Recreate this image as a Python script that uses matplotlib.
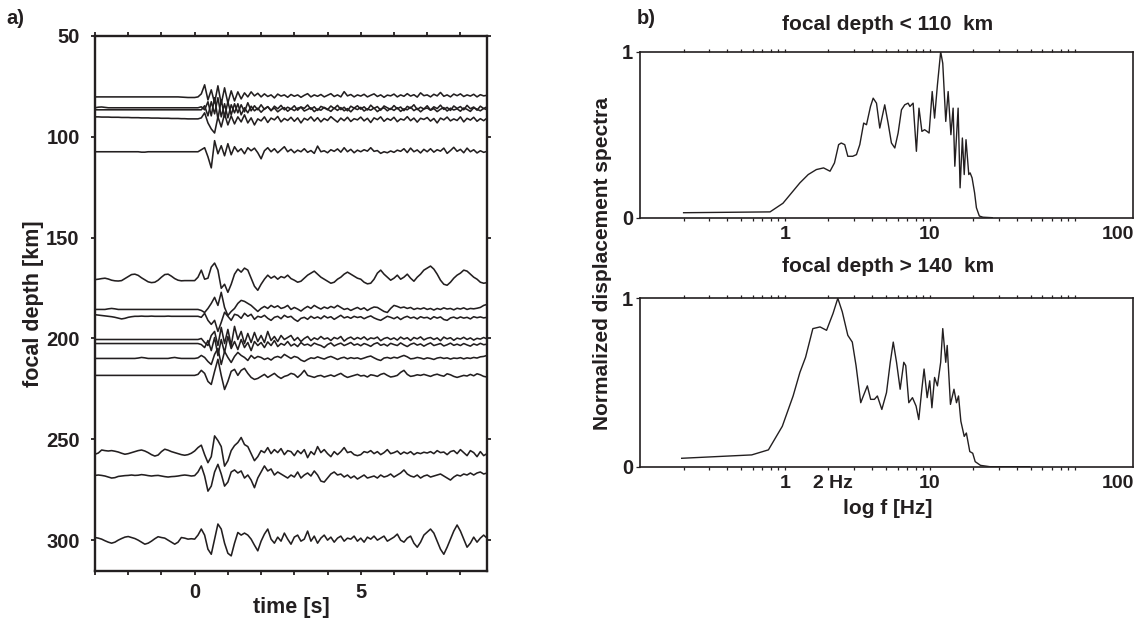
import numpy as np
import matplotlib
matplotlib.use("Agg")
import matplotlib.pyplot as plt
from matplotlib.ticker import FixedLocator, NullFormatter

# ---------------- data ----------------
t_start = -3.0
t_step = 0.1

depths = [80.2, 85.6, 86.6, 91.1, 107.4, 171.1, 185.6, 189.0, 200.5, 202.5, 209.9, 218.3, 256.6, 268.2, 299.5]

tr_080 = [0,0,0,0,0,0,0,0,0,0, 0,0,0,0,0,0,0,0,0,0, 0,0,0,0,0,0,-0.1,-0.2,-0.3,-0.3, -0.3,0,
          1.5,6.0,-1.5,3.5,-3.0,5.5,-3.5,4.5,
          -3.0,3.0,-2.0,2.5,-1.0,2.0,0.0,2.5,0.5,1.8,
          0.0,1.5,0.2,1.0,-0.5,1.4,0.4,1.0,-0.2,1.2,
          0.3,1.0,-0.2,0.8,1.6,0.0,1.0,0.3,1.2,0.0,
          0.8,1.6,0.2,1.0,0.0,2.6,0.5,1.2,0.0,1.0,
          0.4,1.3,0.0,0.8,1.5,0.2,1.0,-0.2,0.9,0.5,
          1.4,0.0,1.0,0.3,1.6,0.4,1.1,-0.1,2.0,0.6,
          1.0,0.0,1.3,0.5,2.2,0.3,1.0,0.0,1.4,0.6,
          1.5,0.2,1.0,0.4,1.3,0.0,1.1,0.5,0.8]
tr_086a = [0,0.3,0.4,0.2,0,0,0,0,0,0, 0,0,0,0,0,0,0,0,0,0, 0,0,0,0,0,0,0,0,0,0, 0,0,
           0.5,-1.0,3.0,-4.0,5.0,-5.5,4.0,-4.5,
           3.0,-3.5,2.0,-2.5,1.5,-2.0,2.5,-1.5,1.0,-1.0,
           1.5,-0.8,0.6,-1.5,0.8,-0.5,1.2,-1.0,0.3,-0.6,
           1.0,-1.2,0.4,-0.3,1.4,-0.8,0.5,-1.3,0.7,0.0,
           -1.0,0.9,-0.4,1.2,-0.9,0.3,-1.5,0.8,-0.2,1.0,
           -0.7,0.5,-1.1,1.3,-0.3,0.6,-1.2,0.9,0.0,-0.8,
           1.1,-0.5,0.4,-1.4,0.7,-0.2,1.5,-0.9,0.3,-0.6,
           1.0,-1.1,0.5,-0.4,1.3,-0.8,0.2,-1.3,0.9,-0.3,
           0.6,-1.0,1.2,-0.5,0.4,-1.2,0.8,-0.4,0.5]
tr_086b = [0,0,0,0,0,0,0,0,0,0, 0,0,0,0,0,0,0,0,0,0, 0,0,0,0,0,0,0,0,0,0, 0,0,
           0.0,2.0,-3.0,4.0,-2.0,6.0,-3.5,3.0,
           -4.0,2.5,-1.5,3.0,-2.5,1.0,-1.5,1.8,-0.5,0.8,
           -1.2,0.5,1.5,-0.2,0.9,-1.0,0.3,1.1,-0.7,0.6,
           -0.4,0.8,1.3,-0.6,0.2,1.0,-0.9,0.4,-0.2,1.2,
           0.3,-0.8,0.9,-0.3,1.1,-0.5,0.6,-1.0,0.8,0.1,
           1.2,-0.6,0.5,-0.2,0.9,-0.9,0.4,1.0,-0.5,0.7,
           -0.3,1.0,-0.8,0.5,0.0,1.3,-0.4,0.7,-1.0,0.4,
           0.9,-0.2,0.6,-0.9,0.3,1.1,-0.6,0.8,-0.1,0.5,
           -0.7,0.9,0.2,-0.8,1.0,0.3,-0.5,0.7,0.0]
tr_091 = [1.0,1.0,0.9,0.9,0.9,0.8,0.8,0.8,0.7,0.7, 0.7,0.6,0.6,0.6,0.5,0.5,0.5,0.4,0.4,0.4, 0.3,0.3,0.3,0.2,0.2,0.2,0.1,0.1,0.0,0.0, 0.0,0.0,
          0.5,3.0,-2.0,-5.0,-7.0,1.0,-4.0,2.5,
          -3.0,1.5,-2.5,1.0,-1.5,2.0,-2.0,0.5,-3.0,0.0,
          -1.0,1.0,-1.8,0.4,-0.5,1.2,-1.5,0.2,-0.8,0.8,
          -1.2,0.5,-2.0,0.3,-0.6,1.0,-1.1,0.6,-1.5,0.2,
          -0.8,1.1,-0.3,-1.6,0.4,-0.9,0.8,-1.3,0.1,-0.5,
          0.9,-1.0,0.3,-1.8,0.5,-0.4,1.0,-1.2,0.2,-0.7,
          0.8,-1.4,0.0,-0.6,1.1,-0.9,0.4,-1.6,0.3,-0.3,
          0.7,-1.1,0.2,-2.0,0.4,-0.5,0.9,-1.0,0.0,-0.8,
          1.0,-1.5,0.3,-0.6,0.8,-1.2,0.1,-0.9,0.4]
tr_107 = [0,0,0,0,0,0,0,0,0,0, 0,0,0,0,-0.2,-0.2,0,0,0,0, 0,0,0,0,0,0,0,0,0,0, 0,0,
          1.0,2.0,-2.5,-8.0,5.5,-1.0,3.0,-2.0,
          4.0,-1.5,2.5,0.0,1.5,-1.0,2.0,0.5,1.8,-0.5,
          -3.5,0.5,2.0,0.0,1.5,-0.5,1.0,2.5,0.0,1.2,
          -0.5,0.8,0.0,1.5,-0.3,0.6,-0.8,2.8,0.0,0.5,
          -0.5,1.0,0.2,1.4,-0.2,2.0,0.0,1.2,-0.5,0.8,
          0.0,1.0,0.3,2.0,0.2,0.6,-0.8,0.0,-0.5,0.4,
          -0.3,0.8,0.2,1.5,-0.4,1.8,0.0,0.9,-0.6,1.2,
          0.0,1.5,-0.2,1.0,0.3,1.8,-0.8,0.6,2.2,0.2,
          1.2,-0.5,1.8,0.0,1.0,-0.6,0.5,-0.3,0.2]
tr_171 = [0.3,0.5,0.8,1.0,0.6,0.0,-0.3,-0.4,-0.2,0.8,
          1.8,2.8,3.0,2.4,1.2,0.2,-0.8,-1.2,-1.0,0.0,
          1.5,2.8,3.0,2.0,0.8,0.0,-0.3,-0.2,-0.2,-0.2,
          -0.2,1.5,
          5.0,0.5,1.0,6.5,8.5,5.0,-4.0,-2.0,
          -6.0,-2.0,3.0,5.5,4.0,6.0,5.0,1.0,-3.0,-5.0,
          -2.0,0.5,2.5,1.0,2.0,0.5,1.8,1.2,2.5,0.8,
          0.0,-1.0,-0.5,1.0,2.5,3.5,4.5,3.0,1.5,0.5,
          -0.5,-1.5,-1.0,0.5,1.5,3.0,4.0,3.0,2.0,1.0,
          0.5,-1.0,-1.8,-1.5,0.5,3.5,5.0,3.0,1.5,0.0,
          1.0,2.5,0.5,1.5,3.0,1.0,-0.5,1.5,3.0,5.0,
          6.0,7.0,5.5,3.0,0.0,-2.0,-2.5,-1.0,1.0,2.5,
          3.5,5.0,4.5,3.0,1.5,0.5,-1.0,-1.5,-1.2]
tr_186 = [0,0,0,0,0.3,0.5,0.3,0,0,0, 0,0,0,0,0,0,0,0,0,0, 0,0,0,0,0,0,0,0,0,0, 0,0,
          -0.5,-1.5,0.5,3.0,6.0,2.0,8.5,1.0,
          -3.0,-1.0,0.5,3.0,4.5,4.0,3.0,2.0,0.5,-1.0,
          0.5,1.5,0.5,2.0,1.0,1.8,0.5,1.0,2.0,0.0,
          1.0,0.2,-0.8,0.5,1.5,0.5,2.0,1.0,0.2,1.2,
          0.5,1.5,0.8,2.0,1.0,0.0,0.5,-0.5,0.3,1.0,
          0.0,0.8,-0.5,0.5,1.2,1.0,0.0,-1.0,-1.5,0.5,
          2.0,1.5,0.8,1.2,0.5,1.0,0.0,0.6,0.2,0.8,
          0.0,0.5,-0.3,0.5,0.0,0.8,0.2,0.5,-0.2,0.6,
          0.2,0.8,0.0,0.5,0.3,0.6,1.0,2.0,2.5]
tr_189 = [0.8,0.6,0.4,0.2,0.0,-0.2,-0.5,-0.9,-1.3,-1.0,
          -0.5,-0.2,0.0,0.0,0.1,0.0,0.0,0.1,0.0,0.0,
          0.0,0.0,0.1,0.0,0.0,0.0,0.0,0.0,0.0,0.0,
          0.0,0.0,
          -0.5,1.5,-2.0,-4.0,-2.0,-7.5,-3.0,2.0,
          0.0,-2.0,1.0,0.5,-1.0,1.5,0.0,1.0,-1.5,0.0,
          -0.5,0.5,-1.0,-2.0,-0.5,0.0,-1.2,0.5,-0.5,0.0,
          -1.5,-2.5,-1.0,-0.5,-1.5,0.0,-1.0,-0.3,-1.2,0.2,
          -0.8,-0.2,-1.5,-0.5,0.5,-0.8,-0.2,-1.0,0.0,-0.6,
          -0.2,-1.2,-0.4,0.2,-0.8,-1.5,-2.0,-1.0,0.0,-0.5,
          -1.2,-0.3,-1.6,-0.6,0.0,-0.9,-0.4,-1.3,-0.2,-0.8,
          -0.5,-1.4,-0.2,-0.9,-0.3,-1.6,-2.0,-0.8,-0.4,-1.1,
          -0.3,-0.9,-0.5,-1.3,-0.2,-0.7,-0.3,-0.8,-0.5]
tr_200 = [0,0,0,0,0,0,0,0,0,0, 0,0,0,0,0,0,0,0,0,0, 0,0,0,0,0,0,0,0,0,0, 0,0,
          0.5,-1.5,-3.0,2.0,4.0,-3.0,6.0,-2.0,
          5.0,-3.0,6.5,0.0,4.0,-2.0,3.0,-1.5,3.5,-1.0,
          2.0,-1.5,4.0,-0.5,1.5,-1.0,2.0,0.0,1.0,2.0,
          -0.5,1.0,-1.0,0.5,1.5,-0.5,0.8,0.0,1.5,0.2,
          0.8,-0.5,1.0,0.3,1.5,-0.8,0.5,1.2,0.0,1.0,
          0.2,1.3,-0.2,0.8,0.4,1.2,-0.6,0.5,1.0,0.0,
          0.8,-0.3,1.2,0.2,0.9,-0.5,1.0,0.3,1.3,-0.2,
          0.6,1.0,0.0,0.8,-0.6,1.2,0.3,0.9,-0.4,0.7,
          0.2,1.1,0.0,0.8,-0.3,0.6,0.2,1.0,0.3]
tr_202 = [0,0,0,0,0,0,0,0,0,0, 0,0,0,0,0,0,0,0,0,0, 0,0,0,0,0,0,0,0,0,0, 0,0,
          -0.5,-2.0,1.5,-3.5,3.0,-6.0,2.0,-4.5,
          3.5,-2.5,1.0,-3.0,2.0,-2.0,0.5,-3.5,1.0,-1.0,
          0.5,-2.0,0.8,-1.0,1.5,-1.5,0.0,-0.8,1.0,-1.2,
          -0.2,-1.5,0.5,-0.8,-0.3,-1.2,0.2,-0.5,-1.0,-2.0,
          -0.5,0.3,-1.2,-0.4,0.2,-1.0,-0.3,0.5,-0.8,-0.2,
          -1.1,0.0,-0.6,-1.4,-0.2,0.4,-0.9,-0.3,-1.2,0.1,
          -0.5,-1.0,0.3,-0.7,-1.5,-0.4,0.2,-0.8,-0.2,-1.3,
          -0.4,0.3,-1.0,-0.5,0.0,-1.2,-0.6,0.2,-0.9,-0.3,
          -1.0,0.0,-0.7,-1.3,-0.2,-0.8,0.1,-0.6,-0.3]
tr_210 = [0,0,0,0,0,0,0,0,0,0, 0,0,0,0.2,0.5,0.3,0,0,0,0, 0,0,0,0.3,0.5,0.2,0,0,0,0, 0,0.3,
          1.5,0.5,-1.5,-3.0,2.0,5.0,-3.0,3.5,
          0.5,-2.0,1.0,3.0,1.5,0.5,-1.0,1.5,0.0,1.0,
          0.5,-0.5,0.2,-0.8,0.5,1.0,0.3,2.0,1.0,0.0,
          1.0,0.5,-0.8,-1.5,-0.5,0.3,0.0,0.8,0.2,-0.3,
          0.5,1.0,0.3,-0.5,0.2,0.6,-0.2,0.4,0.0,0.3,
          -0.3,0.2,0.8,1.2,0.3,-0.5,-1.0,0.2,0.5,0.0,
          0.6,0.2,0.9,1.5,0.8,-0.2,0.0,0.5,0.2,-0.3,
          0.3,0.0,-0.5,0.2,0.5,0.0,0.3,-0.3,0.2,0.0,
          0.4,-0.2,0.3,0.0,0.5,0.2,0.8,1.0,1.5]
tr_218 = [0,0,0,0,0,0,0,0,0,0, 0,0,0,0,0,0,0,0,0,0, 0,0,0,0,0,0,0,0,0,0, 0,0.5,
          2.5,1.0,-3.0,-4.5,2.0,8.0,0.0,-7.0,
          -3.0,2.0,3.0,0.0,2.5,3.5,1.0,-1.0,-2.0,-1.5,
          -0.5,0.5,-1.0,0.0,1.0,-0.5,-1.5,-0.5,0.0,1.0,
          0.5,-1.0,0.5,2.5,0.0,-0.5,-1.0,-0.3,0.0,-0.8,
          -0.3,0.2,-0.5,0.3,1.0,-0.2,-1.0,-0.5,0.0,0.5,
          -0.3,0.0,-0.8,0.3,0.0,-0.5,0.5,1.0,0.0,-0.8,
          -0.5,0.0,1.5,2.5,0.5,-0.5,-0.2,0.3,0.0,0.5,
          0.0,-0.5,0.2,0.6,0.0,-0.4,0.8,0.3,-0.5,-1.0,
          -0.5,0.0,-0.3,0.5,-0.2,0.8,0.3,-0.5,-0.8]
tr_257 = [-0.8,-0.2,1.3,1.0,0.8,1.0,0.7,0.3,-0.3,-0.8,
          -0.5,0.0,0.5,1.0,1.3,0.8,0.0,-1.0,-1.7,-1.2,
          0.5,1.7,1.2,0.5,0.0,-0.5,-1.0,-1.3,-1.0,-0.3,
          0.8,2.5,
          3.7,-1.0,-5.0,-2.0,8.3,6.0,3.0,-6.7,
          -4.0,1.0,3.5,5.0,7.5,4.0,3.0,-0.5,-4.0,-2.0,
          1.0,0.0,2.5,-0.5,1.5,0.0,2.0,-1.0,1.0,0.5,
          -1.5,1.0,-0.5,1.5,-2.5,0.5,-1.0,3.0,0.0,1.5,
          -0.5,-2.0,0.5,-1.0,0.5,2.5,0.0,0.5,-1.0,-1.5,
          -1.0,0.5,0.0,1.0,-0.5,0.5,-1.0,0.0,1.5,-0.5,
          0.0,0.8,-0.8,0.3,-0.5,0.5,-1.0,0.0,-0.5,0.2,
          -0.2,0.5,-0.5,1.0,0.0,0.3,-1.0,0.5,1.0,-0.5,
          1.5,0.0,-1.5,1.0,0.0,-2.0,0.5,-1.5,-0.5]
tr_268 = [0.3,0.5,0.3,0.0,-0.5,-1.0,-0.8,-0.2,0.0,0.2,
          0.3,0.5,0.3,0.4,0.7,0.5,0.2,0.0,0.2,0.3,
          0.0,-0.3,-0.5,-0.3,-0.2,0.0,0.3,0.5,0.3,0.0,
          0.2,2.0,
          5.0,0.0,-7.5,-5.0,2.0,5.8,1.0,-5.0,
          -3.0,2.0,3.0,1.5,2.5,-1.0,0.5,-2.0,-5.8,-1.0,
          2.0,5.0,2.5,3.5,0.5,2.0,1.0,0.0,-1.0,0.5,
          -0.5,2.0,-1.0,0.5,1.5,0.0,2.5,0.5,-2.5,-3.0,
          -1.0,1.0,2.0,0.5,1.0,-0.5,0.5,-1.0,0.0,-1.5,
          -0.5,0.5,-1.0,-0.5,0.0,-1.0,0.5,-0.5,0.0,1.0,
          -0.5,0.5,1.5,3.0,1.0,0.0,-0.5,0.5,-1.0,0.0,
          0.5,-0.5,0.0,0.5,1.0,0.0,-1.0,-2.0,-0.5,0.5,
          0.0,1.0,0.5,1.5,0.5,1.5,2.0,1.0,1.5]
tr_300 = [0.8,0.5,0.0,-0.8,-1.5,-2.0,-1.5,-0.5,0.3,1.0,
          1.3,0.8,0.3,-0.5,-1.5,-2.5,-2.0,-1.0,0.2,1.2,
          0.8,0.5,-0.5,-1.5,-2.5,-1.5,0.8,0.5,0.0,0.2,
          0.0,2.0,
          5.0,2.0,-5.0,-7.5,0.0,7.5,5.0,-2.0,
          -7.0,-8.3,-2.0,3.3,2.0,3.0,2.0,0.0,-3.0,-5.8,
          -1.0,2.5,5.0,0.0,-2.0,1.0,-1.0,3.0,0.0,-2.5,
          1.0,2.0,-1.0,0.0,4.0,-1.0,1.5,-2.0,0.5,2.0,
          -0.5,1.0,-1.5,0.5,1.5,-1.0,0.5,0.0,1.5,-1.0,
          0.5,-1.5,1.0,0.0,1.5,-0.5,0.5,1.5,-1.0,0.0,
          1.0,2.5,-0.5,-1.5,0.5,1.5,-2.0,-4.0,-1.5,2.0,
          3.5,5.0,3.0,-1.0,-5.0,-7.5,-4.0,0.0,4.0,7.0,
          4.0,0.0,-4.0,-2.0,1.0,-1.5,0.5,2.0,0.5]

traces = [tr_080, tr_086a, tr_086b, tr_091, tr_107, tr_171, tr_186, tr_189,
          tr_200, tr_202, tr_210, tr_218, tr_257, tr_268, tr_300]

# spectra (frequency in Hz, normalized amplitude)
f_shallow = [0.2, 0.79, 0.97, 1.27, 1.45, 1.65, 1.85, 2.05, 2.2, 2.35, 2.45, 2.59, 2.72, 2.94, 3.12, 3.29,
             3.5, 3.66, 3.9, 4.07, 4.29, 4.52, 4.89, 5.16, 5.44, 5.74, 6.05, 6.38, 6.72, 7.09, 7.3, 7.48,
             7.68, 8.09, 8.43, 8.83, 9.22, 9.58, 9.9, 10.4, 10.8, 11.3, 11.9, 12.3, 12.9, 13.4, 14.0, 14.5,
             14.9, 15.7, 16.2, 16.8, 17.3, 17.8, 18.6, 19.0, 19.6, 20.4, 21.0, 22.0, 23.3, 27.0]
a_shallow = [0.03, 0.035, 0.087, 0.21, 0.26, 0.29, 0.30, 0.28, 0.33, 0.44, 0.45, 0.44, 0.37, 0.37, 0.38, 0.44,
             0.57, 0.56, 0.67, 0.72, 0.69, 0.54, 0.68, 0.57, 0.45, 0.42, 0.51, 0.65, 0.68, 0.69, 0.67, 0.68,
             0.69, 0.40, 0.66, 0.52, 0.53, 0.52, 0.51, 0.76, 0.60, 0.80, 1.0, 0.93, 0.58, 0.76, 0.50, 0.66,
             0.31, 0.66, 0.18, 0.48, 0.26, 0.47, 0.26, 0.27, 0.24, 0.15, 0.06, 0.01, 0.003, 0.0]

f_deep = [0.194, 0.59, 0.77, 0.96, 1.14, 1.27, 1.39, 1.56, 1.75, 1.94, 2.15, 2.32, 2.49, 2.72, 2.92, 3.1,
          3.34, 3.48, 3.71, 3.91, 4.15, 4.35, 4.67, 5.03, 5.34, 5.6, 5.9, 6.25, 6.62, 6.83, 7.17, 7.6,
          8.05, 8.4, 8.82, 9.14, 9.6, 10.0, 10.35, 10.8, 11.3, 11.9, 12.3, 12.9, 13.2, 13.9, 14.7, 15.3,
          15.8, 16.4, 17.3, 17.9, 18.9, 19.8, 20.6, 22.4, 26.0, 49.0]
a_deep = [0.05, 0.07, 0.10, 0.24, 0.42, 0.56, 0.65, 0.82, 0.83, 0.81, 0.91, 1.0, 0.92, 0.78, 0.74, 0.60,
          0.38, 0.42, 0.48, 0.40, 0.40, 0.42, 0.34, 0.44, 0.62, 0.74, 0.62, 0.46, 0.62, 0.60, 0.38, 0.41,
          0.36, 0.28, 0.46, 0.58, 0.41, 0.51, 0.35, 0.53, 0.48, 0.62, 0.82, 0.62, 0.72, 0.37, 0.46, 0.38,
          0.42, 0.27, 0.18, 0.20, 0.09, 0.08, 0.03, 0.008, 0.0, 0.0]

depth_ticks = [50, 100, 150, 200, 250, 300]
time_ticks = [-3, -2, -1, 0, 1, 2, 3, 4, 5, 6, 7, 8]
time_labels = ["", "", "", "0", "", "", "", "", "5", "", "", ""]
freq_minor = [0.2, 0.3, 0.4, 0.5, 0.6, 0.7, 0.8, 0.9, 1, 2, 3, 4, 5, 6, 7, 8, 9, 10,
              20, 30, 40, 50, 60, 70, 80, 90, 100]
freq_label_pos_top = [1, 10, 198]
freq_labels_top = ["1", "10", "100"]
freq_label_pos_bot = [1, 2.15, 10, 198]
freq_labels_bot = ["1", "2 Hz", "10", "100"]

# ---------------- style ----------------
INK = "#231f20"
FONT = "Liberation Sans"
plt.rcParams["font.family"] = [FONT, "DejaVu Sans"]
plt.rcParams["font.weight"] = "bold"
plt.rcParams["text.color"] = INK
plt.rcParams["axes.edgecolor"] = INK
plt.rcParams["xtick.color"] = INK
plt.rcParams["ytick.color"] = INK

W, H = 1138, 621
fig = plt.figure(figsize=(W / 100, H / 100), dpi=100)


def box(l, t, r, b):
    return [l / W, 1 - b / H, (r - l) / W, (b - t) / H]


# ---------------- panel a ----------------
axA = fig.add_axes(box(95, 36, 487, 571))
for d, tr in zip(depths, traces):
    tr = np.asarray(tr, dtype=float)
    tt = t_start + t_step * np.arange(len(tr))
    axA.plot(tt, d - tr, color=INK, lw=1.15)
axA.set_xlim(-3.0, 8.8)
axA.set_ylim(315.3, 50)
axA.set_yticks(depth_ticks)
axA.set_xticks(time_ticks)
axA.set_xticklabels(time_labels)
axA.tick_params(axis="both", direction="out", length=3, width=1.3, labelsize=14.5,
                top=True, right=True, labeltop=False, labelright=False)
axA.tick_params(axis="y", pad=8)
axA.tick_params(axis="x", pad=6)
for s in axA.spines.values():
    s.set_linewidth(1.7)

fig.text(34 / W, 1 - 303.5 / H, "focal depth [km]", rotation=90, ha="center", va="center",
         fontsize=15.5, fontweight="bold")
fig.text(291 / W, 1 - 607 / H, "time [s]", ha="center", va="center", fontsize=15.5, fontweight="bold")
fig.text(15 / W, 1 - 18 / H, "a)", ha="center", va="center", fontsize=14.5, fontweight="bold")


# ---------------- panel b ----------------
def spec_axes(rect, f, a, label_pos, labels):
    ax = fig.add_axes(rect)
    ax.plot(f, a, color=INK, lw=1.0)
    ax.set_xscale("log")
    ax.set_xlim(0.1, 253)
    ax.set_ylim(0, 1)
    ax.set_yticks([0, 1])
    ax.set_yticklabels(["0", "1"])
    ax.xaxis.set_major_locator(FixedLocator(label_pos))
    ax.set_xticklabels(labels)
    ax.xaxis.set_minor_locator(FixedLocator(freq_minor))
    ax.xaxis.set_minor_formatter(NullFormatter())
    ax.xaxis.remove_overlapping_locs = False
    ax.tick_params(axis="x", which="major", length=0, pad=6, labelsize=14)
    ax.tick_params(axis="x", which="minor", direction="out", length=2.5, width=0.9,
                   top=True, bottom=True)
    ax.tick_params(axis="y", which="major", direction="out", length=3, width=0.9,
                   pad=2, labelsize=14.5)
    for s in ax.spines.values():
        s.set_linewidth(1.2)
    return ax


axB1 = spec_axes(box(640, 51.7, 1133, 217.7), f_shallow, a_shallow, freq_label_pos_top, freq_labels_top)
axB2 = spec_axes(box(640, 298.3, 1133, 466.7), f_deep, a_deep, freq_label_pos_bot, freq_labels_bot)

fig.text(888 / W, 1 - 30 / H, "focal depth < 110  km", ha="center", va="baseline",
         fontsize=15, fontweight="bold")
fig.text(888 / W, 1 - 272 / H, "focal depth > 140  km", ha="center", va="baseline",
         fontsize=15, fontweight="bold")
fig.text(602 / W, 1 - 264 / H, "Normalized displacement spectra", rotation=90, ha="center",
         va="center", fontsize=15, fontweight="bold")
fig.text(888 / W, 1 - 509 / H, "log f [Hz]", ha="center", va="center", fontsize=15, fontweight="bold")
fig.text(646 / W, 1 - 19 / H, "b)", ha="center", va="center", fontsize=14.5, fontweight="bold")

fig.savefig("out.png", dpi=100)
